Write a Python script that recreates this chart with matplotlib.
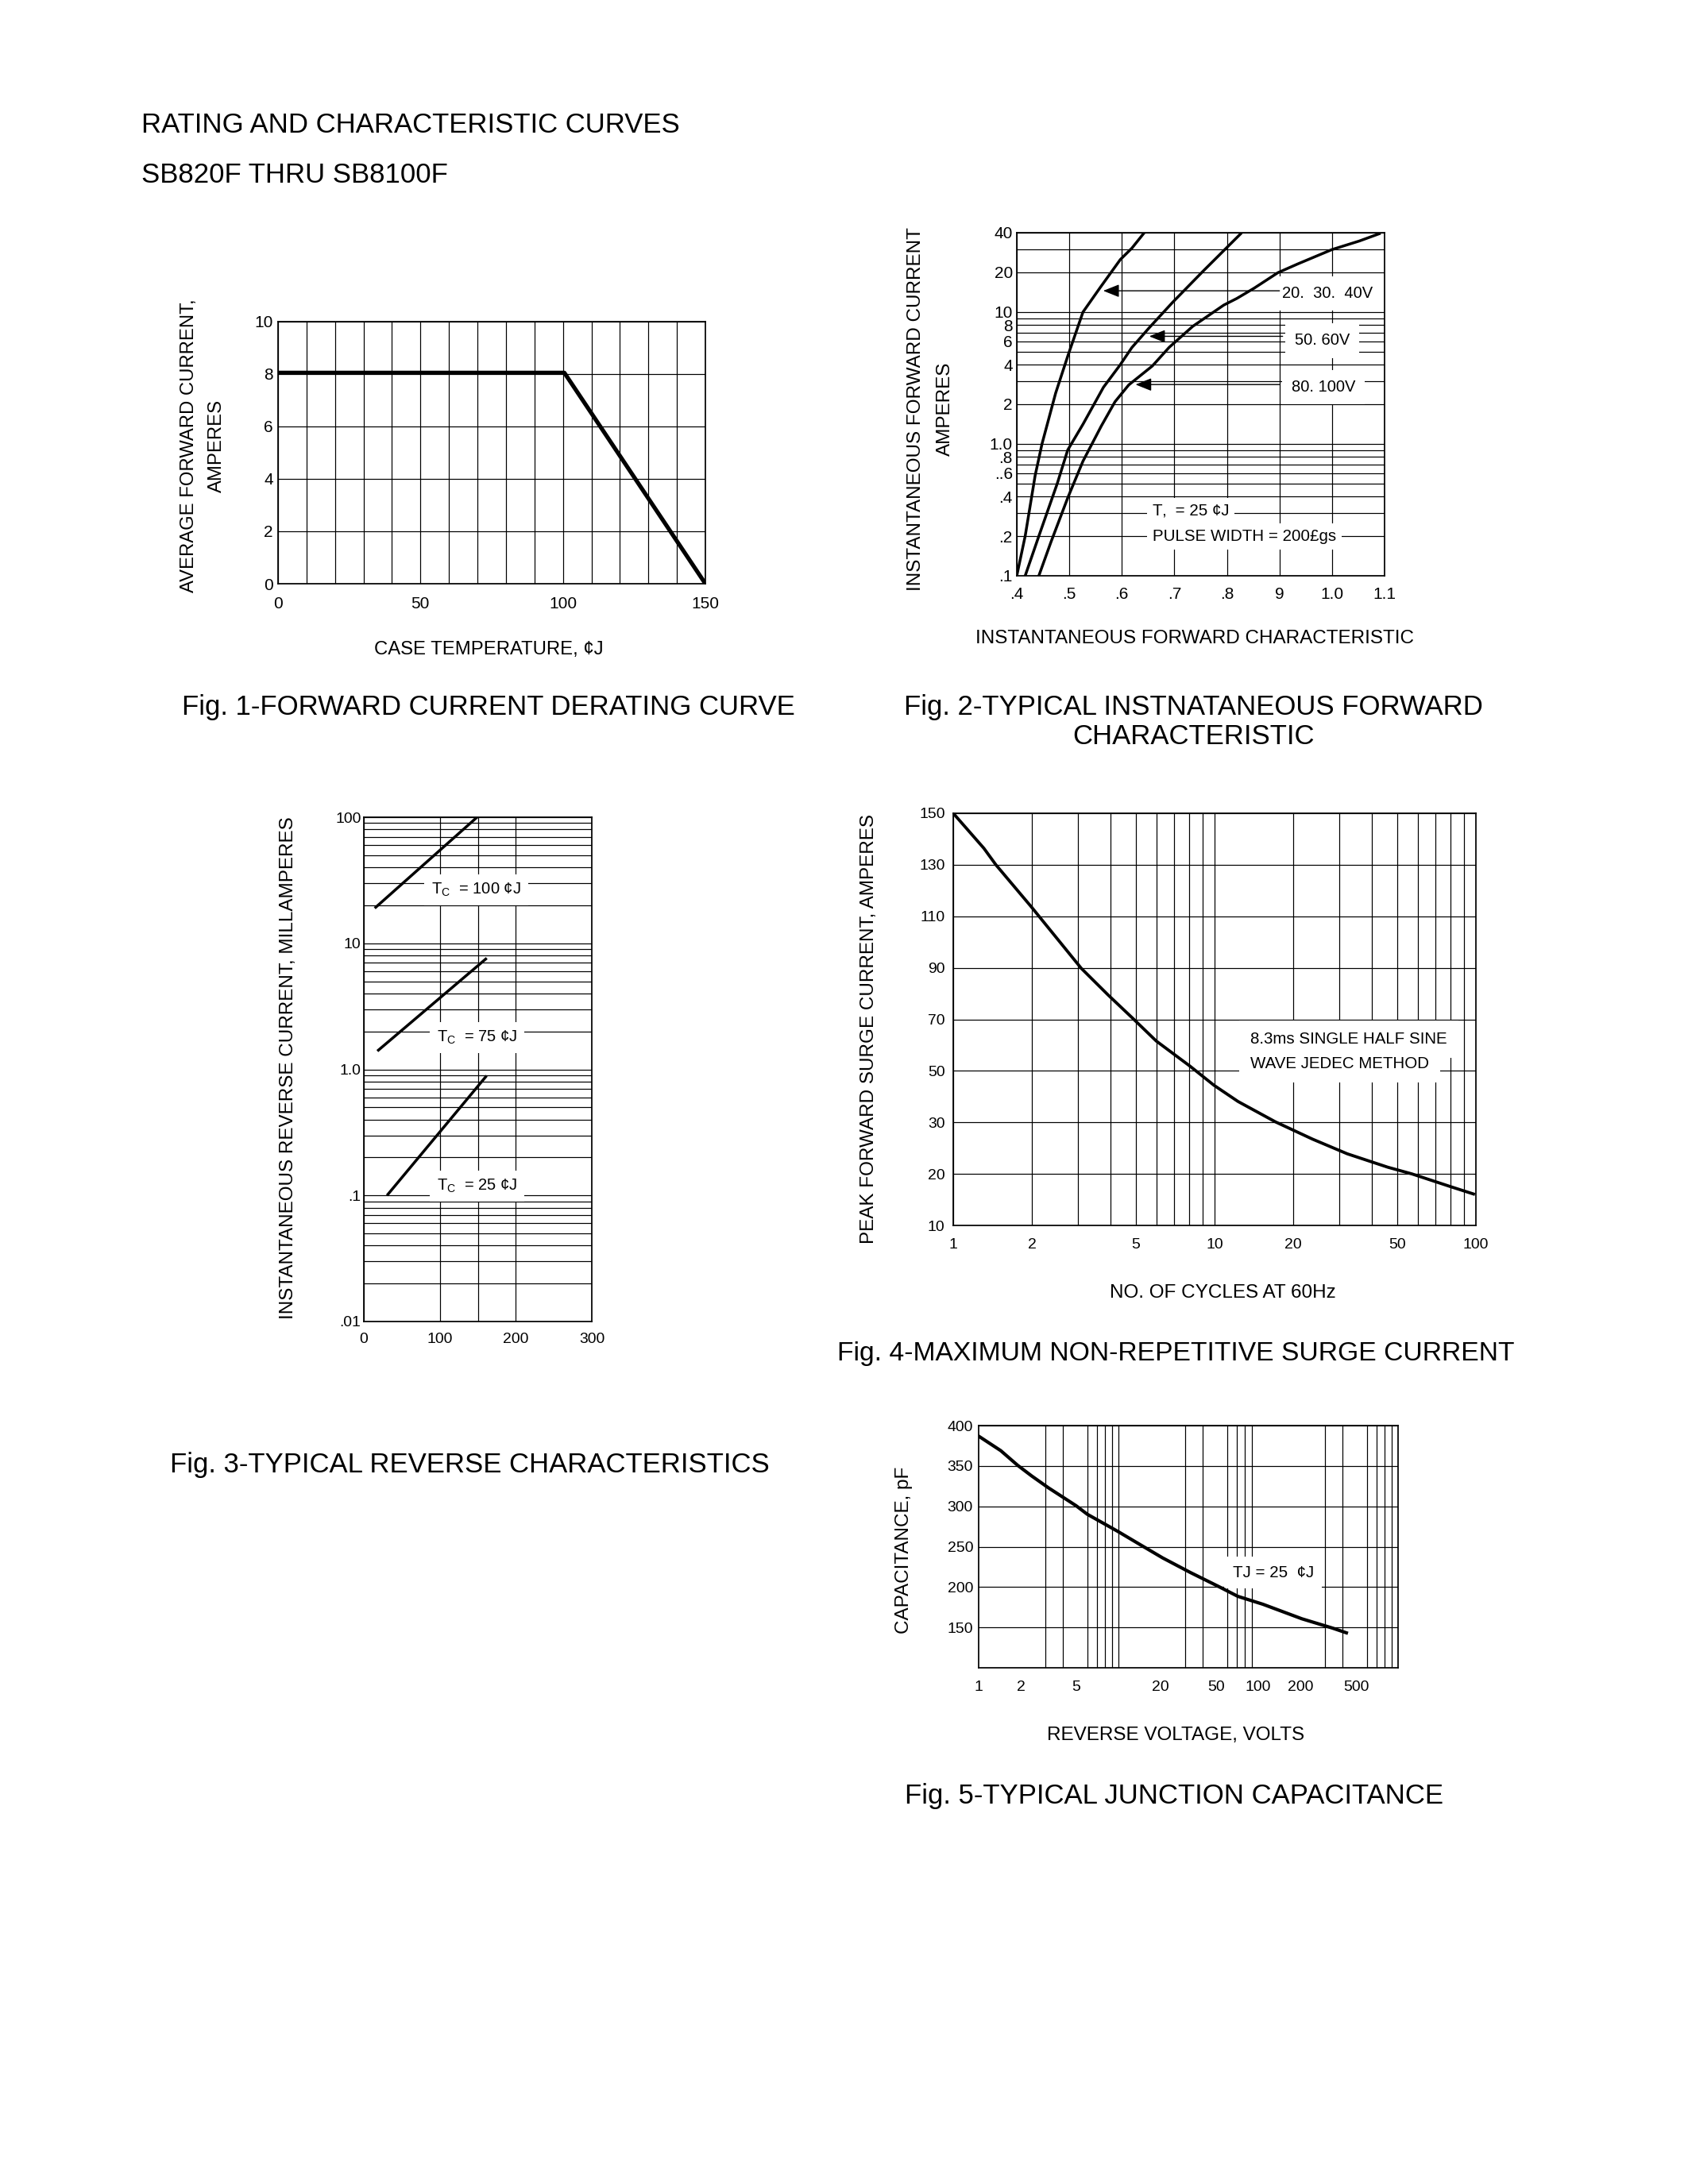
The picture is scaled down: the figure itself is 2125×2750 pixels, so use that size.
import numpy as np
import matplotlib
matplotlib.use('Agg')
import matplotlib.pyplot as plt

plt.rcParams['font.family'] = ['Liberation Sans', 'DejaVu Sans']
plt.rcParams['mathtext.fontset'] = 'custom'
plt.rcParams['mathtext.rm'] = 'Liberation Sans'
plt.rcParams['mathtext.it'] = 'Liberation Sans'

W, H = 2125, 2750

# Fig 1 - derating curve
derate_temp = [0, 100.5, 150]
derate_amps = [8.05, 8.05, 0]

# Fig 2 - forward characteristic (volts, amps)
fwd_v_1 = [0.400, 0.416, 0.435, 0.448, 0.474, 0.497, 0.526, 0.558, 0.597, 0.619, 0.642]
fwd_a_1 = [0.1, 0.2, 0.577, 1.0, 2.43, 4.63, 10.0, 15.2, 25.0, 30.5, 39.7]
fwd_v_2 = [0.416, 0.442, 0.477, 0.497, 0.526, 0.565, 0.597, 0.619, 0.652, 0.697, 0.755, 0.826]
fwd_a_2 = [0.1, 0.2, 0.5, 0.9, 1.41, 2.69, 3.99, 5.38, 7.6, 11.9, 20.5, 39.2]
fwd_v_3 = [0.442, 0.465, 0.497, 0.526, 0.561, 0.587, 0.613, 0.658, 0.690, 0.735, 0.794,
           0.819, 0.852, 0.897, 0.935, 1.000, 1.052, 1.090]
fwd_a_3 = [0.1, 0.18, 0.39, 0.74, 1.37, 2.09, 2.8, 3.9, 5.4, 7.8, 11.3,
           12.7, 15.2, 19.9, 23.2, 29.8, 34.6, 39.3]
fwd_names = ['20.  30.  40V', '50. 60V', '80. 100V']
arrow_tip_v = [0.5645, 0.652, 0.626]
arrow_tip_a = [14.5, 6.55, 2.82]
arrow_tail_v = [0.900, 0.906, 0.900]
name_v = [0.905, 0.929, 0.9226]
name_a = [13.8, 6.07, 2.68]
fwd_yticks = [0.1, 0.2, 0.4, 0.6, 0.8, 1, 2, 4, 6, 8, 10, 20, 40]
fwd_ylabels = ['.1', '.2', '.4', '..6', '.8', '1.0', '2', '4', '6', '8', '10', '20', '40']
fwd_xticks = [0.4, 0.5, 0.6, 0.7, 0.8, 0.9, 1.0, 1.1]
fwd_xlabels = ['.4', '.5', '.6', '.7', '.8', '9', '1.0', '1.1']

# Fig 3 - reverse characteristics (mA)
rev_names = ['T$_\\mathrm{C}$  = 100 ¢J', 'T$_\\mathrm{C}$  = 75 ¢J', 'T$_\\mathrm{C}$  = 25 ¢J']
rev_x = [[15.7, 149], [19.2, 160.4], [31.7, 160.4]]
rev_y = [[19.3, 100], [1.42, 7.5], [0.102, 0.873]]
rev_label_x = [89, 96, 96]
rev_label_y = [26.5, 1.78, 0.119]
rev_yticks = [0.01, 0.1, 1, 10, 100]
rev_ylabels = ['.01', '.1', '1.0', '10', '100']

# Fig 4 - surge current
surge_cycles = [1.0, 1.31, 1.456, 2.0, 3.09, 3.92, 4.84, 5.98, 8.06, 9.95, 12.3,
                17.1, 23.7, 32.2, 46.0, 56.9, 79.2, 97.9]
surge_amps = [150, 136.4, 130, 113.4, 89.8, 79.4, 70.6, 61.6, 51.8, 44.4, 38.1,
              30.2, 26.75, 23.9, 21.3, 20.0, 17.6, 16.1]
surge_levels = [10, 20, 30, 50, 70, 90, 110, 130, 150]
surge_xticks = [1, 2, 5, 10, 20, 50, 100]

# Fig 5 - junction capacitance
cap_volts = [1.0, 1.44, 1.90, 2.39, 3.15, 4.98, 5.98, 9.9, 14.3, 20.7, 32.7,
             51.6, 71.4, 107.9, 205, 339, 427]
cap_pf = [386.9, 368.9, 350.8, 337.7, 323, 300.7, 290.2, 268.9, 252.5, 236.1, 218,
          201, 188.5, 178.7, 160.7, 149.2, 143.3]
cap_xticks = [1, 2, 5, 20, 50, 100, 200, 500]
cap_yticks = [150, 200, 250, 300, 350, 400]

fig = plt.figure(figsize=(8.5, 11), dpi=250)


def px_axes(l, t, r, b):
    # axes from pixel box of the page
    return fig.add_axes([l / W, 1 - b / H, (r - l) / W, (b - t) / H])


def ftext(x, y, s, **kw):
    fig.text(x / W, 1 - y / H, s, **kw)


def style(ax, size=5.6, padx=4, pady=2):
    for sp in ax.spines.values():
        sp.set_linewidth(0.5)
    ax.tick_params(which='both', length=0, labelsize=size)
    ax.tick_params(axis='x', pad=padx)
    ax.tick_params(axis='y', pad=pady)
    ax.grid(which='both', color='k', lw=0.35)
    ax.set_axisbelow(True)


box = dict(facecolor='white', edgecolor='none', pad=2)
CAP = 10
LAB = 7

# header
ftext(178, 167, 'RATING AND CHARACTERISTIC CURVES', fontsize=CAP, va='baseline')
ftext(178, 230, 'SB820F THRU SB8100F', fontsize=CAP, va='baseline')

# ---------- Fig 1
ax1 = px_axes(350, 405, 888, 735)
ax1.plot(derate_temp, derate_amps, color='k', lw=1.5)
ax1.set_xlim(0, 150)
ax1.set_ylim(0, 10)
ax1.set_xticks([0, 50, 100, 150])
ax1.set_xticks(np.arange(0, 151, 10), minor=True)
ax1.set_yticks([0, 2, 4, 6, 8, 10])
style(ax1, size=6, padx=4.5, pady=1.8)
ftext(238, 561, 'AVERAGE FORWARD CURRENT,', rotation=90, fontsize=6.9, ha='center', va='center')
ftext(273, 561, 'AMPERES', rotation=90, fontsize=6.9, ha='center', va='center')
ftext(615, 818, 'CASE TEMPERATURE, ¢J', fontsize=6.9, ha='center', va='center')
ftext(615, 900, 'Fig. 1-FORWARD CURRENT DERATING CURVE', fontsize=CAP, ha='center', va='baseline')

# ---------- Fig 2
ax2 = px_axes(1280, 293, 1743, 725)
ax2.set_yscale('log')
for v, a in [(fwd_v_1, fwd_a_1), (fwd_v_2, fwd_a_2), (fwd_v_3, fwd_a_3)]:
    ax2.plot(v, a, color='k', lw=1.0, zorder=4)
ax2.set_xlim(0.4, 1.1)
ax2.set_ylim(0.1, 40)
ax2.set_xticks(fwd_xticks, fwd_xlabels)
ax2.set_yticks(fwd_yticks, fwd_ylabels)
ax2.yaxis.set_minor_locator(matplotlib.ticker.LogLocator(subs=np.arange(1, 10)))
ax2.yaxis.set_minor_formatter(matplotlib.ticker.NullFormatter())
style(ax2, size=6, padx=4, pady=1.5)
for i in range(3):
    ax2.annotate('', xy=(arrow_tip_v[i], arrow_tip_a[i]), xytext=(arrow_tail_v[i], arrow_tip_a[i]),
                 arrowprops=dict(arrowstyle='-|>,head_length=0.55,head_width=0.22', mutation_scale=9,
                                 color='k', lw=0.4, shrinkA=0, shrinkB=0), zorder=5)
    ax2.text(name_v[i], name_a[i], fwd_names[i], fontsize=5.8, va='center', ha='left',
             bbox=dict(facecolor='white', edgecolor='none', pad=3.5))
ax2.text(0.658, 0.31, 'T\u201a  = 25 ¢J', fontsize=5.9, va='center', bbox=box)
ax2.text(0.658, 0.198, 'PULSE WIDTH = 200£gs', fontsize=5.9, va='center', bbox=box)
ftext(1153, 515, 'INSTANTANEOUS FORWARD CURRENT', rotation=90, fontsize=LAB, ha='center', va='center')
ftext(1190, 515, 'AMPERES', rotation=90, fontsize=LAB, ha='center', va='center')
ftext(1504, 804, 'INSTANTANEOUS FORWARD CHARACTERISTIC', fontsize=LAB, ha='center', va='center')
ftext(1502, 900, 'Fig. 2-TYPICAL INSTNATANEOUS FORWARD', fontsize=CAP, ha='center', va='baseline')
ftext(1502, 937, 'CHARACTERISTIC', fontsize=CAP, ha='center', va='baseline')

# ---------- Fig 3
ax3 = px_axes(458, 1029, 745, 1664)
ax3.set_yscale('log')
for xs, ys in zip(rev_x, rev_y):
    ax3.plot(xs, ys, color='k', lw=1.0, zorder=4)
ax3.set_xlim(0, 300)
ax3.set_ylim(0.01, 100)
ax3.set_xticks([0, 100, 200, 300])
ax3.set_xticks([150], minor=True)
ax3.set_yticks(rev_yticks, rev_ylabels)
ax3.yaxis.set_minor_locator(matplotlib.ticker.LogLocator(subs=np.arange(1, 10)))
ax3.yaxis.set_minor_formatter(matplotlib.ticker.NullFormatter())
style(ax3, size=5.6, padx=4, pady=1)
for i in range(3):
    ax3.text(rev_label_x[i], rev_label_y[i], rev_names[i], fontsize=5.8, va='center', ha='left',
             bbox=dict(facecolor='white', edgecolor='none', pad=2.5))
ftext(363, 1345, 'INSTANTANEOUS REVERSE CURRENT, MILLAMPERES', rotation=90, fontsize=LAB,
      ha='center', va='center')
ftext(591, 1854, 'Fig. 3-TYPICAL REVERSE CHARACTERISTICS', fontsize=CAP, ha='center', va='baseline')

# ---------- Fig 4
ax4 = px_axes(1200, 1024, 1858, 1543)
ax4.set_xscale('log')
idx = np.arange(len(surge_levels))
ax4.set_yscale('function', functions=(lambda v: np.interp(v, surge_levels, idx),
                                      lambda i: np.interp(i, idx, surge_levels)))
ax4.plot(surge_cycles, surge_amps, color='k', lw=1.1, zorder=4)
ax4.set_xlim(1, 100)
ax4.set_ylim(10, 150)
ax4.set_xticks(surge_xticks, [str(t) for t in surge_xticks])
ax4.xaxis.set_minor_locator(matplotlib.ticker.LogLocator(subs=np.arange(1, 10)))
ax4.xaxis.set_minor_formatter(matplotlib.ticker.NullFormatter())
ax4.set_yticks(surge_levels, [str(t) for t in surge_levels])
ax4.yaxis.set_minor_locator(matplotlib.ticker.NullLocator())
style(ax4, size=5.6, padx=4.5, pady=3)
ax4.text(13.7, 62.3, '8.3ms SINGLE HALF SINE', fontsize=5.9, va='center', ha='left',
         bbox=dict(facecolor='white', edgecolor='none', pad=4))
ax4.text(13.7, 52.7, 'WAVE JEDEC METHOD', fontsize=5.9, va='center', ha='left',
         bbox=dict(facecolor='white', edgecolor='none', pad=4))
ftext(1094, 1295, 'PEAK FORWARD SURGE CURRENT, AMPERES', rotation=90, fontsize=LAB,
      ha='center', va='center')
ftext(1539, 1628, 'NO. OF CYCLES AT 60Hz', fontsize=LAB, ha='center', va='center')
ftext(1480, 1713, 'Fig. 4-MAXIMUM NON-REPETITIVE SURGE CURRENT', fontsize=9.7, ha='center', va='baseline')

# ---------- Fig 5
ax5 = px_axes(1232, 1795, 1760, 2100)
ax5.set_xscale('log')
ax5.plot(cap_volts, cap_pf, color='k', lw=1.2, zorder=4)
ax5.set_xlim(1, 1000)
ax5.set_ylim(100, 400)
ax5.set_xticks(cap_xticks, [str(t) for t in cap_xticks])
ax5.xaxis.set_minor_locator(matplotlib.ticker.LogLocator(subs=np.arange(1, 10)))
ax5.xaxis.set_minor_formatter(matplotlib.ticker.NullFormatter())
ax5.set_yticks(cap_yticks)
style(ax5, size=5.6, padx=4.5, pady=2)
ax5.grid(axis='x', which='major', visible=False)
ax5.grid(axis='x', which='minor', color='k', lw=0.35)
ax5.text(65.6, 218, 'TJ = 25  ¢J', fontsize=5.9, va='center', ha='left',
         bbox=dict(facecolor='white', edgecolor='none', pad=3))
ftext(1138, 1952, 'CAPACITANCE, pF', rotation=90, fontsize=LAB, ha='center', va='center')
ftext(1480, 2185, 'REVERSE VOLTAGE, VOLTS', fontsize=LAB, ha='center', va='center')
ftext(1478, 2271, 'Fig. 5-TYPICAL JUNCTION CAPACITANCE', fontsize=CAP, ha='center', va='baseline')

fig.savefig('out.png', dpi=250, facecolor='white')
